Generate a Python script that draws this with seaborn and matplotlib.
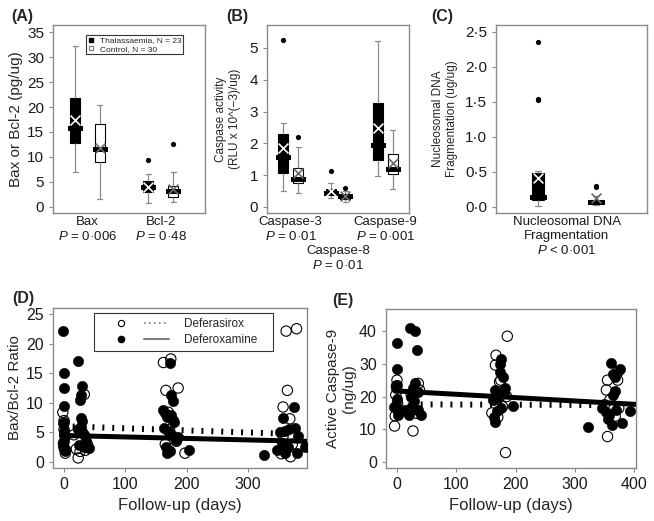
import numpy as np
import pandas as pd
import matplotlib
matplotlib.use('Agg')
import matplotlib.pyplot as plt
import seaborn as sns
from matplotlib.lines import Line2D
from matplotlib.legend_handler import HandlerBase
from matplotlib.ticker import FuncFormatter

# ---- panel A: Bax / Bcl-2 (low whisker, q1, median, q3, high whisker per category)
A_CATS = ['Bax', 'Bcl-2']
A_LABELS = ['Bax\n$P$ = 0·006', 'Bcl-2\n$P$ = 0·48']
A_THAL_STATS = [(6.9, 12.7, 15.7, 21.8, 32.3), (0.7, 2.9, 4.0, 5.2, 6.5)]
A_CTRL_STATS = [(1.5, 9.0, 11.5, 16.5, 20.4), (1.0, 1.9, 3.2, 4.2, 7.0)]
A_THAL_MEAN = [17.4, 4.0]
A_CTRL_MEAN = [11.8, 3.6]
A_THAL_OUT = [[], [9.4]]
A_CTRL_OUT = [[], [12.5]]

# ---- panel B: caspase activity
B_CATS = ['Caspase-3', 'Caspase-8', 'Caspase-9']
B_LABELS = ['Caspase-3\n$P$ = 0·01', 'Caspase-8\n$P$ = 0·01', 'Caspase-9\n$P$ = 0·001']
B_THAL_STATS = [(0.50, 1.08, 1.58, 2.28, 2.63), (0.27, 0.37, 0.44, 0.58, 0.76),
                (0.97, 1.47, 1.95, 3.26, 5.23)]
B_CTRL_STATS = [(0.45, 0.74, 0.87, 1.23, 1.87), (0.16, 0.26, 0.33, 0.40, 0.50),
                (0.56, 1.03, 1.19, 1.65, 2.42)]
B_THAL_MEAN = [1.84, 0.50, 2.49]
B_CTRL_MEAN = [1.07, 0.34, 1.37]
B_THAL_OUT = [[5.26], [1.13], []]
B_CTRL_OUT = [[2.19], [0.61], []]

# ---- panel C: nucleosomal DNA fragmentation
C_CATS = ['Nucleosomal DNA']
C_LABELS = ['Nucleosomal DNA\nFragmentation\n$P$ < 0·001']
C_THAL_STATS = [(0.01, 0.10, 0.14, 0.48, 0.51)]
C_CTRL_STATS = [(0.03, 0.04, 0.07, 0.10, 0.16)]
C_THAL_MEAN = [0.41]
C_CTRL_MEAN = [0.13]
C_THAL_OUT = [[2.36, 1.54, 1.52]]
C_CTRL_OUT = [[0.30, 0.28]]

# ---- panel D: Bax/Bcl-2 ratio over follow-up
D_DFX_DAYS = [-2, 0, 2, 0, 1, -1, 0, 3,
              33, 23, 16, 20, 35, 28, 38, 26,
              162, 174, 166, 186, 197, 170, 178, 165, 183, 172,
              362, 379, 364, 357, 368, 369, 357, 372, 354]
D_DFX_VALS = [8.4, 7.0, 1.5, 2.4, 4.5, 3.2, 5.5, 2.0,
              11.4, 0.7, 4.6, 2.2, 2.0, 5.2, 3.0, 1.8,
              16.8, 17.4, 12.1, 12.5, 1.5, 8.4, 7.0, 3.0, 3.5, 5.5,
              22.1, 22.5, 12.1, 9.3, 7.3, 0.9, 4.4, 3.0, 1.4]
D_DFO_DAYS = [-1, 0, 0, 0, -1, 0, 1, 0, -1, 0, 1, 0,
              23, 29, 27, 26, 27, 30, 28, 31, 34, 24, 41, 32, 22, 36,
              172, 174, 178, 162, 165, 168, 175, 180, 163, 170, 176, 182, 166, 173, 204, 168, 185,
              326, 374, 357, 376, 352, 381, 392, 347, 360, 379, 365, 360, 366, 355]
D_DFO_VALS = [22.1, 15.0, 12.5, 9.5, 6.6, 5.2, 4.4, 3.6, 2.9, 2.2, 1.8, 6.8,
              17.0, 12.9, 11.4, 10.5, 7.4, 7.0, 6.0, 4.9, 4.4, 2.8, 2.4, 2.6, 5.5, 3.5,
              16.7, 11.4, 10.3, 8.8, 8.2, 7.6, 7.9, 6.8, 5.8, 5.2, 4.6, 3.8, 2.6, 1.9, 2.0, 1.6, 4.2,
              1.2, 9.3, 7.4, 5.8, 5.0, 4.4, 2.6, 2.1, 1.6, 1.6, 2.6, 5.2, 5.6, 3.3]
D_FIT_DFX_X = [14, 354]
D_FIT_DFX_Y = [6.0, 4.8]
D_FIT_DFO_X = [-4, 395]
D_FIT_DFO_Y = [4.5, 3.5]

# ---- panel E: active caspase-9 over follow-up
E_DFX_DAYS = [0, -1, -2, -3, -4, 1,
              27, 36, 33, 30, 24, 38,
              186, 183, 167, 166, 173, 160, 178, 170, 185, 175,
              355, 353, 373, 372, 355, 374, 359, 350, 368]
E_DFX_VALS = [25.0, 23.2, 20.5, 14.1, 11.0, 17.9,
              9.5, 24.0, 14.9, 16.0, 20.5, 22.0,
              38.4, 2.9, 32.6, 29.6, 24.5, 15.0, 16.9, 13.7, 20.0, 25.0,
              25.0, 22.0, 27.6, 25.0, 7.8, 16.5, 19.0, 17.5, 14.0]
E_DFO_DAYS = [0, 0, 0, -1, 0, -5, 2, 1, -2,
              22, 31, 33, 13, 20, 27, 31, 35, 40, 25, 29, 36, 18, 23,
              176, 174, 173, 178, 165, 182, 162, 164, 166, 196, 170, 175, 180, 168,
              361, 376, 364, 368, 367, 345, 362, 380, 393, 322, 358, 352, 370, 356, 365]
E_DFO_VALS = [36.2, 28.4, 23.5, 22.6, 19.1, 16.9, 14.4, 15.6, 17.5,
              41.0, 40.0, 34.1, 15.9, 14.4, 22.6, 24.0, 21.5, 14.4, 17.2, 18.5, 16.0, 15.2, 20.0,
              31.6, 30.0, 27.5, 26.0, 22.0, 22.5, 18.9, 13.9, 12.3, 17.1, 20.0, 16.5, 21.0, 15.5,
              30.1, 28.3, 27.0, 26.0, 21.8, 16.4, 11.3, 11.8, 15.6, 10.8, 14.5, 15.3, 16.0, 13.0, 20.5]
E_FIT_DFX_X = [40, 353]
E_FIT_DFX_Y = [17.6, 17.4]
E_FIT_DFO_X = [0, 403]
E_FIT_DFO_Y = [21.7, 17.6]

GROUPS = ['Thalassaemia', 'Control']
FRAME = '#8a8a8a'
WHISK = '#8a8a8a'

sns.set_style('ticks')
plt.rcParams['font.family'] = ['Liberation Sans', 'DejaVu Sans']
plt.rcParams['mathtext.fontset'] = 'custom'
plt.rcParams['mathtext.it'] = 'Liberation Sans:italic'
plt.rcParams['mathtext.rm'] = 'Liberation Sans'


def style_axes(ax):
    for s in ax.spines.values():
        s.set_visible(True)
        s.set_color(FRAME)
        s.set_linewidth(1.0)
    ax.tick_params(color=FRAME, labelcolor='#1a1a1a', length=3, width=0.8, labelsize=11)


def box_frame(cats, thal_stats, ctrl_stats):
    rows = []
    for grp, stats in zip(GROUPS, (thal_stats, ctrl_stats)):
        for cat, five in zip(cats, stats):
            rows += [(cat, grp, v) for v in five]
    return pd.DataFrame(rows, columns=['cat', 'group', 'value'])


def box_panel(ax, cats, labels, thal_stats, ctrl_stats, thal_mean, ctrl_mean,
              thal_out, ctrl_out, width, gap):
    df = box_frame(cats, thal_stats, ctrl_stats)
    sns.boxplot(data=df, x='cat', y='value', hue='group', order=cats, hue_order=GROUPS,
                palette={'Thalassaemia': 'black', 'Control': 'white'},
                width=width, gap=gap, whis=(0, 100), showfliers=False,
                linecolor='black', linewidth=0.8,
                whiskerprops=dict(color=WHISK, linewidth=0.9),
                capprops=dict(color=WHISK, linewidth=0.9),
                medianprops=dict(color='black', linewidth=3.6, solid_capstyle='projecting'),
                legend=False, ax=ax)
    pos = np.arange(len(cats))
    shifts = (-width / 4, width / 4)
    for shift, means, outs, mc in zip(shifts, (thal_mean, ctrl_mean), (thal_out, ctrl_out),
                                      ('white', '#6a6a6a')):
        sns.scatterplot(x=pos + shift, y=means, marker='x', color=mc, s=50,
                        linewidth=1.2, ax=ax, zorder=6)
        ox = [p + shift for p, vals in zip(pos, outs) for _ in vals]
        oy = [v for vals in outs for v in vals]
        if oy:
            sns.scatterplot(x=ox, y=oy, color='black', s=14, linewidth=0, ax=ax, zorder=6)
    style_axes(ax)
    ax.set_xticks(pos, labels)
    ax.tick_params(axis='x', length=0, pad=2, labelsize=9.5)
    ax.set_xlabel('')


class PointThenLine(HandlerBase):
    def create_artists(self, legend, orig_handle, xdescent, ydescent, width, height,
                       fontsize, trans):
        point, line = orig_handle
        y = height / 2 - ydescent
        p = Line2D([0.32 * width - xdescent], [y])
        p.update_from(point)
        seg = Line2D([0.64 * width - xdescent, width - xdescent], [y, y])
        seg.update_from(line)
        p.set_transform(trans)
        seg.set_transform(trans)
        return [p, seg]


def follow_panel(ax, dfx_x, dfx_y, dfo_x, dfo_y, fdx_x, fdx_y, fdo_x, fdo_y):
    sns.scatterplot(x=dfx_x, y=dfx_y, facecolor='none', edgecolor='black', s=55,
                    linewidth=0.8, ax=ax, zorder=3)
    sns.scatterplot(x=dfo_x, y=dfo_y, color='black', s=55, linewidth=0.4,
                    edgecolor='black', ax=ax, zorder=3)
    sns.lineplot(x=fdx_x, y=fdx_y, color='black', linewidth=4.3,
                 linestyle=(0, (0.33, 1.33)), ax=ax, zorder=4)
    sns.lineplot(x=fdo_x, y=fdo_y, color='black', linewidth=3.6, ax=ax, zorder=4)
    style_axes(ax)
    ax.tick_params(labelsize=11.5)
    ax.set_xlabel('Follow-up (days)', fontsize=12)


fig = plt.figure(figsize=(6.54, 5.21), dpi=100)
W, H = 654, 521


def add_axes(left, right, top, bottom):
    return fig.add_axes([left / W, 1 - bottom / H, (right - left) / W, (bottom - top) / H])


axA = add_axes(53, 205, 25, 213)
axB = add_axes(267, 409, 25, 213)
axC = add_axes(496, 647, 25, 213)
axD = add_axes(53, 307, 308, 468)
axE = add_axes(386, 636, 309, 468)

# A
box_panel(axA, A_CATS, A_LABELS, A_THAL_STATS, A_CTRL_STATS, A_THAL_MEAN, A_CTRL_MEAN,
          A_THAL_OUT, A_CTRL_OUT, width=0.68, gap=0.6)
axA.set_xlim(-0.47, 1.6)
axA.set_ylim(-1.3, 36.5)
axA.set_yticks(range(0, 36, 5))
axA.set_ylabel('Bax or Bcl-2 (pg/ug)', fontsize=11, labelpad=3)
legA = axA.legend([Line2D([], [], marker='s', linestyle='none', color='black', markersize=3.5),
                   Line2D([], [], marker='s', linestyle='none', markerfacecolor='white',
                          markeredgecolor='#777777', markersize=3.5, markeredgewidth=0.8)],
                  ['Thalassaemia, N = 23', 'Control, N = 30'],
                  loc='upper right', bbox_to_anchor=(0.855, 0.947), borderaxespad=0,
                  fontsize=6, frameon=True, fancybox=False, edgecolor='black',
                  handlelength=1.0, handletextpad=0.5, borderpad=0.2, labelspacing=0.05)
legA.get_frame().set_linewidth(0.8)

# B
box_panel(axB, B_CATS, B_LABELS, B_THAL_STATS, B_CTRL_STATS, B_THAL_MEAN, B_CTRL_MEAN,
          B_THAL_OUT, B_CTRL_OUT, width=0.632, gap=0.33)
axB.set_xlim(-0.5, 2.5)
axB.set_ylim(-0.19, 5.72)
axB.set_yticks(range(0, 6))
axB.xaxis.get_major_ticks()[1].set_pad(23)   # Caspase-8 label sits one row lower
axB.set_ylabel('Caspase activity\n(RLU x 10^(\u22123)/ug)', fontsize=8.5, labelpad=6)

# C
box_panel(axC, C_CATS, C_LABELS, C_THAL_STATS, C_CTRL_STATS, C_THAL_MEAN, C_CTRL_MEAN,
          C_THAL_OUT, C_CTRL_OUT, width=0.77, gap=0.8)
axC.set_xlim(-0.47, 0.53)
axC.set_ylim(-0.09, 2.6)
axC.set_yticks(np.arange(0, 2.51, 0.5))
axC.yaxis.set_major_formatter(FuncFormatter(lambda v, p: f'{v:.1f}'.replace('.', '·')))
axC.set_ylabel('Nucleosomal DNA\nFragmentation (ug/ug)', fontsize=8.5, labelpad=5)

# D
follow_panel(axD, D_DFX_DAYS, D_DFX_VALS, D_DFO_DAYS, D_DFO_VALS,
             D_FIT_DFX_X, D_FIT_DFX_Y, D_FIT_DFO_X, D_FIT_DFO_Y)
axD.set_xlim(-18, 396)
axD.set_ylim(-1.0, 26)
axD.set_xticks([0, 100, 200, 300])
axD.set_yticks(range(0, 26, 5))
axD.set_ylabel('Bax/Bcl-2 Ratio', fontsize=11, labelpad=3)
open_h = Line2D([], [], marker='o', linestyle='none', markerfacecolor='none',
                markeredgecolor='black', markersize=4.5, markeredgewidth=0.8)
fill_h = Line2D([], [], marker='o', linestyle='none', color='black', markersize=4.5)
dot_h = Line2D([], [], color='#808080', linewidth=1.2, linestyle=(0, (1, 2)))
sol_h = Line2D([], [], color='#808080', linewidth=1.5)
legD = axD.legend([(open_h, dot_h), (fill_h, sol_h)], ['Deferasirox', 'Deferoxamine'],
                  handler_map={tuple: PointThenLine()},
                  loc='upper left', bbox_to_anchor=(0.161, 0.744, 0.705, 0.225),
                  mode='expand', borderaxespad=0, fontsize=8.5, frameon=True,
                  fancybox=False, edgecolor='black', handlelength=6.0,
                  handletextpad=1.2, borderpad=0.4, labelspacing=0.35)
legD.get_frame().set_linewidth(0.8)

# E
follow_panel(axE, E_DFX_DAYS, E_DFX_VALS, E_DFO_DAYS, E_DFO_VALS,
             E_FIT_DFX_X, E_FIT_DFX_Y, E_FIT_DFO_X, E_FIT_DFO_Y)
axE.set_xlim(-18.5, 403)
axE.set_ylim(-1.8, 46.7)
axE.set_xticks([0, 100, 200, 300, 400])
axE.set_yticks(range(0, 41, 10))
axE.set_ylabel('Active Caspase-9\n(ng/ug)', fontsize=11, labelpad=2)

for txt, px, py in [('(A)', 11, 16), ('(B)', 226, 16), ('(C)', 431, 16),
                    ('(D)', 12, 299), ('(E)', 332, 300)]:
    fig.text(px / W, 1 - py / H, txt, fontsize=11.5, fontweight='bold',
             ha='left', va='center')

fig.savefig('out.png', dpi=100)
